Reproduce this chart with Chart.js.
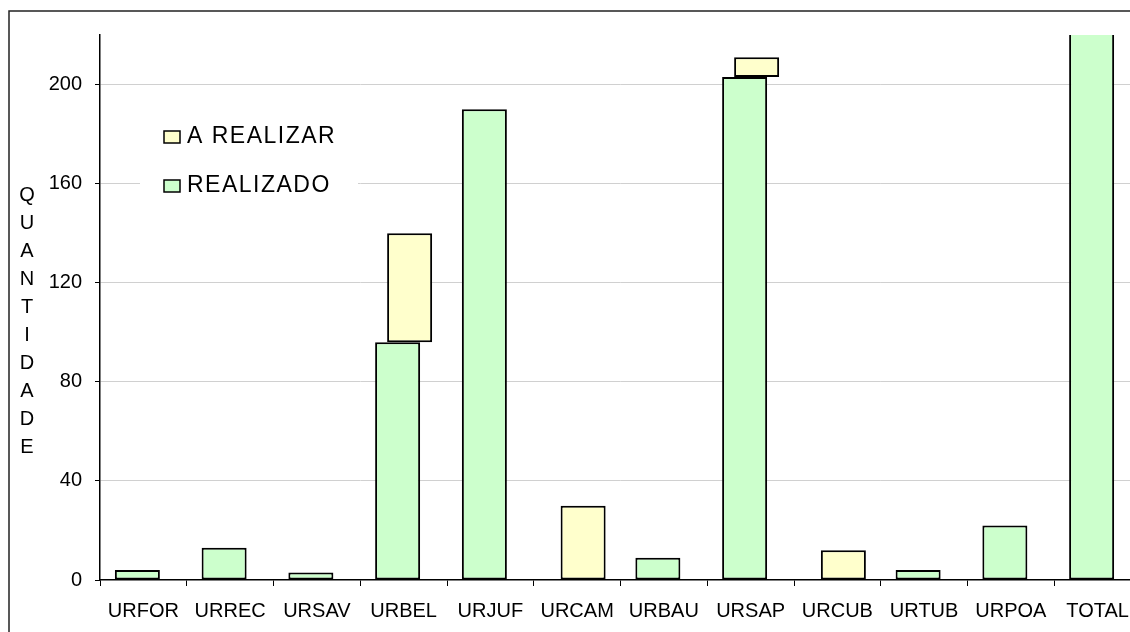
<!DOCTYPE html>
<html lang="pt-BR">
<head>
<meta charset="utf-8">
<title>Quantidade por unidade regional</title>
<script src="https://cdn.jsdelivr.net/npm/chart.js@4.4.1/dist/chart.umd.min.js"></script>
<style>
  html, body { margin: 0; padding: 0; background: #fff; overflow: hidden; }
  #wrap { position: relative; width: 1146px; height: 632px; }
</style>
</head>
<body>
<div id="wrap"><canvas id="chart" width="1146" height="632"></canvas></div>
<script>
// dados (null = sem barra)
const categorias = ['URFOR', 'URREC', 'URSAV', 'URBEL', 'URJUF', 'URCAM', 'URBAU', 'URSAP', 'URCUB', 'URTUB', 'URPOA', 'TOTAL'];
const realizado  = [4, 13, 3, 96, 190, null, 9, 203, null, 4, 22, 544];
const aRealizar  = [null, null, null, 44, null, 30, null, 8, 12, null, null, 94];
const yTicks = [0, 40, 80, 120, 160, 200];
const yMax = 220;
const tituloY = 'QUANTIDADE';

const FONT = "'Liberation Sans', Arial, sans-serif";

// moldura externa (só esquerda e topo aparecem)
const moldura = {
  id: 'moldura',
  beforeDraw(chart) {
    const ctx = chart.ctx;
    ctx.save();
    ctx.fillStyle = '#fff';
    ctx.fillRect(0, 0, chart.width, chart.height);
    ctx.strokeStyle = '#222';
    ctx.lineWidth = 1.5;
    ctx.strokeRect(9, 11, chart.width + 20, chart.height + 20);
    ctx.restore();
  }
};

// título do eixo Y com letras empilhadas
const tituloVertical = {
  id: 'tituloVertical',
  afterDraw(chart) {
    const ctx = chart.ctx;
    ctx.save();
    ctx.font = `20px ${FONT}`;
    ctx.fillStyle = '#000';
    ctx.textAlign = 'center';
    ctx.textBaseline = 'middle';
    tituloY.split('').forEach((ch, i) => ctx.fillText(ch, 27, 195 + i * 28.1));
    ctx.restore();
  }
};

// legenda dentro da área do gráfico
const legendaInterna = {
  id: 'legendaInterna',
  afterDatasetsDraw(chart) {
    const ctx = chart.ctx;
    const itens = chart.data.datasets.slice().reverse();
    ctx.save();
    ctx.fillStyle = '#fff';
    ctx.fillRect(140, 112, 218, 96);
    ctx.font = `23px ${FONT}`;
    ctx.letterSpacing = '1.5px';
    ctx.textBaseline = 'middle';
    itens.forEach((ds, i) => {
      const y = 137 + i * 49;
      ctx.fillStyle = ds.backgroundColor;
      ctx.fillRect(164, y - 6, 16, 12);
      ctx.strokeStyle = '#000';
      ctx.lineWidth = 1.5;
      ctx.strokeRect(164, y - 6, 16, 12);
      ctx.fillStyle = '#000';
      ctx.fillText(ds.label, 187, y);
    });
    ctx.restore();
  }
};

const barOpts = {
  borderColor: '#000',
  borderWidth: 2,
  borderSkipped: false,
  categoryPercentage: 0.2767,
  barPercentage: 3.75
};

new Chart(document.getElementById('chart'), {
  type: 'bar',
  data: {
    labels: categorias,
    datasets: [
      { label: 'REALIZADO', data: realizado, backgroundColor: '#CCFFCC', ...barOpts },
      { label: 'A REALIZAR', data: aRealizar, backgroundColor: '#FFFFCC', ...barOpts }
    ]
  },
  options: {
    responsive: false,
    animation: false,
    devicePixelRatio: 1,
    layout: { padding: { top: 35, right: 5, left: 0, bottom: 0 } },
    plugins: {
      legend: { display: false },
      tooltip: { enabled: false }
    },
    scales: {
      x: {
        stacked: false,
        offset: true,
        grid: { offset: true, drawOnChartArea: false, drawTicks: true, tickLength: 6, tickColor: '#000', tickWidth: 1 },
        border: { display: true, color: '#000', width: 1.5 },
        ticks: { color: '#000', font: { family: FONT, size: 20 }, padding: 13, maxRotation: 0, autoSkip: false },
        afterFit(scale) { scale.height = 52; }
      },
      y: {
        stacked: true,
        min: 0,
        max: yMax,
        afterBuildTicks(scale) { scale.ticks = yTicks.map(v => ({ value: v })); },
        grid: {
          color: ctx => ctx.tick && ctx.tick.value === 0 ? 'rgba(0,0,0,0)' : '#d0d0d0',
          lineWidth: 1,
          drawTicks: true,
          tickLength: 5,
          tickColor: '#000'
        },
        border: { display: true, color: '#000', width: 1.5 },
        ticks: { color: '#000', font: { family: FONT, size: 20 }, padding: 13 },
        afterFit(scale) { scale.width = 100; }
      }
    }
  },
  plugins: [moldura, tituloVertical, legendaInterna]
});
</script>
</body>
</html>
